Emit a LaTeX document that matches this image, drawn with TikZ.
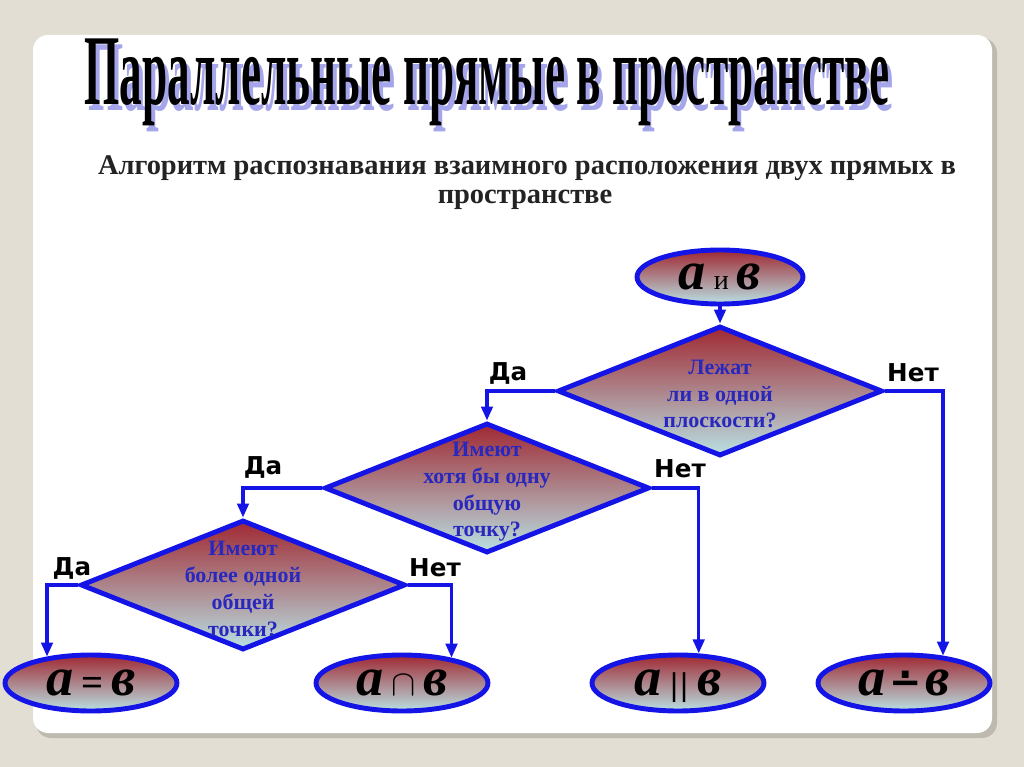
\documentclass[tikz,border=0pt]{standalone}
\usepackage{fontspec}
\usepackage{graphicx}
\usepackage{amsmath}
\setmainfont{Liberation Serif}
\newfontfamily\lblfont{DejaVu Sans}
\usetikzlibrary{shapes.geometric,arrows.meta}
\definecolor{bgbeige}{RGB}{227,222,211}
\definecolor{panelshadow}{RGB}{190,186,176}
\definecolor{lineblue}{RGB}{20,20,230}
\definecolor{topred}{RGB}{160,40,50}
\definecolor{botcyan}{RGB}{185,225,228}
\definecolor{txtblue}{RGB}{40,40,190}
\definecolor{shadowlav}{RGB}{165,165,235}
\definecolor{subgray}{RGB}{35,35,35}
\newcommand{\titletxt}{\resizebox*{16.1cm}{1.74cm}{\bfseries Параллельные прямые в пространстве}}
\newcommand{\bigit}[1]{{\fontsize{31}{31}\selectfont\bfseries\itshape #1}}
\newcommand{\gapx}{\hspace{0.16cm}}
\newcommand{\centred}[1]{\raisebox{-7pt}[0pt][0pt]{#1}}
\newcommand{\dotminussym}{{\lblfont\bfseries\fontsize{22}{22}\selectfont ∸}}
\begin{document}
\begin{tikzpicture}[x=0.02cm,y=-0.02cm,
  shapefill/.style={top color=topred,bottom color=botcyan,draw=lineblue,line width=2.8pt},
  decision/.style={shapefill,diamond,inner sep=0pt,minimum width=6.5cm,minimum height=2.6cm},
  terminal/.style={shapefill,ellipse,inner sep=0pt,minimum width=3.44cm,minimum height=1.12cm},
  qtext/.style={align=center,text=txtblue,inner sep=0pt,font=\fontsize{12.5}{15.2}\selectfont\bfseries},
  answer/.style={inner sep=0pt,font=\lblfont\bfseries\fontsize{14}{14}\selectfont},
  subtitle/.style={inner sep=0pt,text=subgray,font=\fontsize{16.2}{18}\selectfont\bfseries},
  conn/.style={draw=lineblue,line width=1.9pt,-{Triangle[length=8pt,width=6.5pt]}},
]
\fill[bgbeige] (0,0) rectangle (1024,767);
\useasboundingbox (0,0) rectangle (1024,767);
\fill[panelshadow,rounded corners=0.3cm] (36,38) rectangle (997,738);
\fill[white,rounded corners=0.3cm] (33,35) rectangle (992,733);

% title
\node[inner sep=0pt,text=shadowlav] (titleshadow) at (491,88) {\titletxt};
\node[inner sep=0pt,text=black] (title) at (487,82) {\titletxt};

% subtitle
\node[subtitle] (sub1) at (527,168) {Алгоритм распознавания взаимного расположения двух прямых в};
\node[subtitle] (sub2) at (525,200) {пространстве};

% start
\node[terminal,minimum width=3.32cm,minimum height=1.08cm] (e0) at (720,277)
  {\centred{\bigit{а}\gapx{\fontsize{16}{16}\selectfont и}\gapx\bigit{в}}};

% decisions
\node[decision] (d1) at (720,391) {};
\node[qtext] (t1) at (720,394) {Лежат\\ли в одной\\плоскости?};
\node[decision] (d2) at (487,488) {};
\node[qtext] (t2) at (487,492) {Имеют\\хотя бы одну\\общую\\точку?};
\node[decision] (d3) at (243,585) {};
\node[qtext] (t3) at (243,589) {Имеют\\более одной\\общей\\точки?};

% results
\node[terminal] (e1) at (91,683) {\centred{\bigit{а}\gapx{\fontsize{22}{22}\selectfont\bfseries =}\gapx\bigit{в}}};
\node[terminal] (e2) at (402,683) {\centred{\bigit{а}\gapx{\fontsize{22}{22}\selectfont$\cap$}\gapx\bigit{в}}};
\node[terminal] (e3) at (678,683) {\centred{\bigit{а}\gapx{\fontsize{17}{17}\selectfont\lblfont ||}\gapx\bigit{в}}};
\node[terminal] (e4) at (904,683) {\centred{\bigit{а}\hspace{0.08cm}\dotminussym\hspace{0.08cm}\bigit{в}}};

% answers
\node[answer] (da1) at (508,373) {Да};
\node[answer] (net1) at (913,373) {Нет};
\node[answer] (da2) at (263,467) {Да};
\node[answer] (net2) at (680,469) {Нет};
\node[answer] (da3) at (72,568) {Да};
\node[answer] (net3) at (435,568) {Нет};

% connectors
\draw[conn] (e0.south) -- (d1.north);
\draw[conn] (d1.west) -| (d2.north);
\draw[conn] (d1.east) -| (e4.35);
\draw[conn] (d2.west) -| (d3.north);
\draw[conn] (d2.east) -| (e3.55);
\draw[conn] (d3.west) -| (e1.149);
\draw[conn] (d3.east) -| (e2.27);
\end{tikzpicture}
\end{document}
